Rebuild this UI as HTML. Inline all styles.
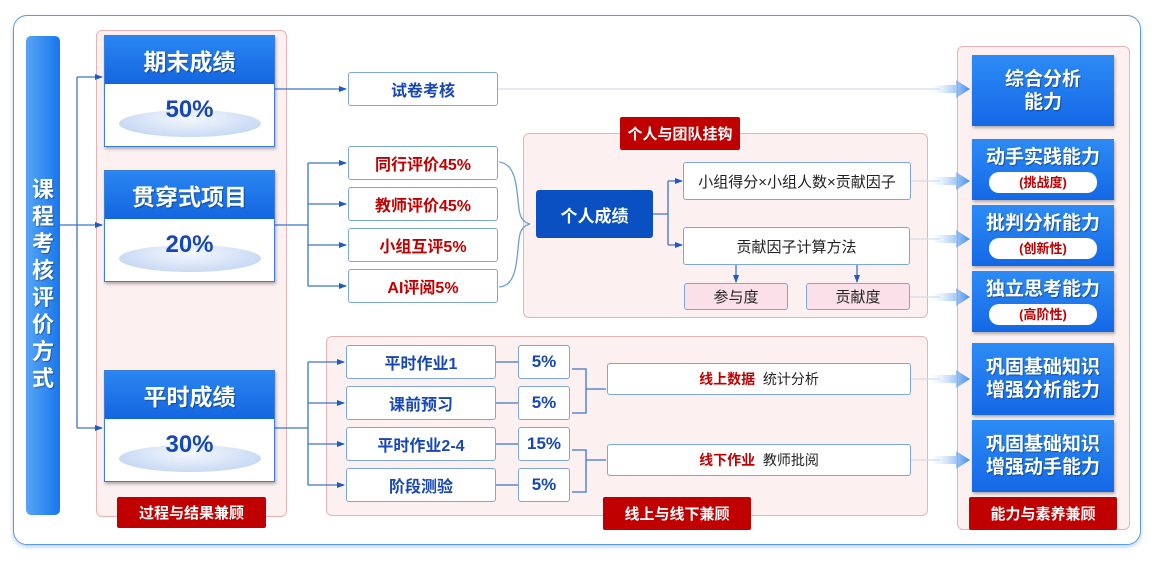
<!DOCTYPE html>
<html><head><meta charset="utf-8"><style>
*{box-sizing:border-box;margin:0;padding:0}
body{width:1156px;height:561px;background:#fff;position:relative;overflow:hidden;font-family:"Liberation Sans","Noto Sans CJK SC",sans-serif}
.a{position:absolute}
.frame{left:13px;top:15px;width:1128px;height:530px;border:1.5px solid #5b9be0;border-radius:14px;box-shadow:0 2px 4px rgba(80,140,220,.4)}
.pink{background:#fdf0f0;border:1px solid #eab3b3;border-radius:6px}
.lab{background:#c00000;color:#fff;font-weight:bold;font-size:15px;display:flex;align-items:center;justify-content:center;border-radius:2px}
.vbar{left:26px;top:36px;width:34px;height:479px;border-radius:5px;background:linear-gradient(90deg,#58a4f5,#1877ee);color:#fff;font-weight:bold;font-size:22px;line-height:27px;text-align:center;padding-top:140px;text-shadow:1px 1px 1px rgba(0,0,0,.35)}
.card{width:171px;box-shadow:1px 2px 3px rgba(0,0,0,.3);border:1.5px solid #3d7fd8;background:#fff}
.card .h{height:48px;background:linear-gradient(180deg,#2a86f2,#1466e0);color:#fff;font-weight:bold;font-size:23px;display:flex;align-items:center;justify-content:center;text-shadow:1px 1px 1px rgba(0,0,0,.35)}
.card .b{height:62px;position:relative}
.card .b .e{position:absolute;left:14px;top:26px;width:142px;height:27px;border-radius:50%;background:radial-gradient(ellipse at 50% 30%,#f4f8ff,#b9cff0)}
.card .b .t{position:absolute;left:0;right:0;top:12px;text-align:center;color:#1747b5;font-weight:bold;font-size:24px}
.bx{background:#fff;border:1.5px solid #7fa6dc;border-radius:3px;display:flex;align-items:center;justify-content:center;font-weight:bold;font-size:16px}
.blue{color:#1747b5}.red{color:#c00000}
.nb{font-weight:normal;color:#222;font-size:15px}
.pk{background:#fbe0ea;border:1.5px solid #7fa6dc;border-radius:3px;display:flex;align-items:center;justify-content:center;font-size:15px;color:#222}
.rb{left:972px;width:142px;background:linear-gradient(180deg,#2d8bf5,#1468e6);color:#fff;font-weight:bold;font-size:19px;text-align:center;box-shadow:1px 2px 3px rgba(0,0,0,.3);display:flex;flex-direction:column;align-items:center;justify-content:center;line-height:23px;text-shadow:1px 1px 1px rgba(0,0,0,.35)}
.pill{background:#fff;color:#c00000;font-size:13px;border-radius:10px;width:108px;height:21px;line-height:21px;margin-top:3px;text-shadow:none}
</style></head><body>
<div class="a frame"></div>
<div class="a vbar">课<br>程<br>考<br>核<br>评<br>价<br>方<br>式</div>

<div class="a pink" style="left:96px;top:30px;width:191px;height:487px"></div>
<div class="a pink" style="left:523px;top:133px;width:405px;height:185px"></div>
<div class="a pink" style="left:326px;top:336px;width:602px;height:180px"></div>
<div class="a pink" style="left:957px;top:46px;width:173px;height:484px"></div>

<svg class="a" style="left:0;top:0" width="1156" height="561">
<defs>
<marker id="ar" markerWidth="8" markerHeight="8" refX="7" refY="4" orient="auto" markerUnits="userSpaceOnUse"><path d="M0,1 L8,4 L0,7z" fill="#1c5bc4"/></marker>
<linearGradient id="fa" x1="0" x2="1"><stop offset="0" stop-color="#cfe3fb" stop-opacity="0"/><stop offset="1" stop-color="#3a8ef0"/></linearGradient>
</defs>
<g stroke="#3f74cc" stroke-width="1.3" fill="none">
<path d="M60 225 H77"/><path d="M77 77 V428"/>
<path d="M77 77 H102" marker-end="url(#ar)"/><path d="M77 225 H102" marker-end="url(#ar)"/><path d="M77 428 H102" marker-end="url(#ar)"/>
<path d="M275 89 H346" marker-end="url(#ar)"/>
<path d="M275 225 H308"/><path d="M308 163 V286"/>
<path d="M308 163 H346" marker-end="url(#ar)"/><path d="M308 204 H346" marker-end="url(#ar)"/><path d="M308 245 H346" marker-end="url(#ar)"/><path d="M308 286 H346" marker-end="url(#ar)"/>
<path d="M275 428 H308"/><path d="M308 362 V485"/>
<path d="M308 362 H344" marker-end="url(#ar)"/><path d="M308 403 H344" marker-end="url(#ar)"/><path d="M308 444 H344" marker-end="url(#ar)"/><path d="M308 485 H344" marker-end="url(#ar)"/>
<path d="M496 362 H518 M496 403 H518 M496 444 H518 M496 485 H518"/>
<path d="M572 369 H586 V413 H572 M586 389 H606"/>
<path d="M572 450 H586 V492 H572 M586 460 H606"/>
<path d="M653 214 H668 M668 181 V245"/><path d="M668 181 H682" marker-end="url(#ar)"/><path d="M668 245 H682" marker-end="url(#ar)"/>
<path d="M736 265 V282" marker-end="url(#ar)"/><path d="M857 265 V282" marker-end="url(#ar)"/>
</g>
<path d="M499 162 C520 164 516 200 520 214 Q522 222 530 224 Q522 226 520 234 C516 250 520 286 499 287" stroke="#6b9ee0" stroke-width="1.3" fill="none"/>
<g stroke="#d8dde6" stroke-width="1.2">
<path d="M498 89 H940"/><path d="M911 181 H940"/><path d="M910 239 H940"/><path d="M910 297 H940"/><path d="M911 379 H940"/><path d="M911 460 H940"/>
</g>
<g fill="url(#fa)">
<path d="M930 85 H956 V80 L970 89 L956 98 V93 H930z"/>
<path d="M930 177 H956 V172 L970 181 L956 190 V185 H930z"/>
<path d="M930 235 H956 V230 L970 239 L956 248 V243 H930z"/>
<path d="M930 293 H956 V288 L970 297 L956 306 V301 H930z"/>
<path d="M930 375 H956 V370 L970 379 L956 388 V383 H930z"/>
<path d="M930 456 H956 V451 L970 460 L956 469 V464 H930z"/>
</g>
</svg>

<div class="a card" style="left:104px;top:35px"><div class="h">期末成绩</div><div class="b"><div class="e"></div><div class="t">50%</div></div></div>
<div class="a card" style="left:104px;top:170px"><div class="h">贯穿式项目</div><div class="b"><div class="e"></div><div class="t">20%</div></div></div>
<div class="a card" style="left:104px;top:370px"><div class="h">平时成绩</div><div class="b"><div class="e"></div><div class="t">30%</div></div></div>
<div class="a lab" style="left:117px;top:497px;width:149px;height:31px">过程与结果兼顾</div>

<div class="a bx blue" style="left:348px;top:72px;width:150px;height:34px">试卷考核</div>
<div class="a bx red" style="left:348px;top:146px;width:150px;height:34px">同行评价45%</div>
<div class="a bx red" style="left:348px;top:187px;width:150px;height:34px">教师评价45%</div>
<div class="a bx red" style="left:348px;top:228px;width:150px;height:34px">小组互评5%</div>
<div class="a bx red" style="left:348px;top:269px;width:150px;height:34px">AI评阅5%</div>

<div class="a lab" style="left:620px;top:117px;width:120px;height:33px">个人与团队挂钩</div>
<div class="a" style="left:536px;top:190px;width:117px;height:48px;background:#0b50c2;border-radius:3px;color:#fff;font-weight:bold;font-size:17px;display:flex;align-items:center;justify-content:center">个人成绩</div>
<div class="a bx nb" style="left:683px;top:162px;width:228px;height:38px">小组得分×小组人数×贡献因子</div>
<div class="a bx nb" style="left:683px;top:227px;width:227px;height:38px">贡献因子计算方法</div>
<div class="a pk" style="left:684px;top:283px;width:104px;height:27px">参与度</div>
<div class="a pk" style="left:806px;top:283px;width:104px;height:27px">贡献度</div>

<div class="a bx blue" style="left:346px;top:345px;width:150px;height:34px">平时作业1</div>
<div class="a bx blue" style="left:346px;top:386px;width:150px;height:34px">课前预习</div>
<div class="a bx blue" style="left:346px;top:427px;width:150px;height:34px">平时作业2-4</div>
<div class="a bx blue" style="left:346px;top:468px;width:150px;height:34px">阶段测验</div>
<div class="a bx blue" style="left:518px;top:345px;width:52px;height:34px;font-size:17px">5%</div>
<div class="a bx blue" style="left:518px;top:386px;width:52px;height:34px;font-size:17px">5%</div>
<div class="a bx blue" style="left:518px;top:427px;width:52px;height:34px;font-size:17px">15%</div>
<div class="a bx blue" style="left:518px;top:468px;width:52px;height:34px;font-size:17px">5%</div>
<div class="a bx" style="left:607px;top:363px;width:304px;height:32px;font-size:14px"><span class="red">线上数据</span>&nbsp;&nbsp;<span class="nb" style="font-size:14px">统计分析</span></div>
<div class="a bx" style="left:607px;top:444px;width:304px;height:32px;font-size:14px"><span class="red">线下作业</span>&nbsp;&nbsp;<span class="nb" style="font-size:14px">教师批阅</span></div>
<div class="a lab" style="left:603px;top:497px;width:148px;height:33px">线上与线下兼顾</div>

<div class="a rb" style="top:55px;height:71px">综合分析<br>能力</div>
<div class="a rb" style="top:139px;height:61px">动手实践能力<div class="pill">(挑战度)</div></div>
<div class="a rb" style="top:205px;height:61px">批判分析能力<div class="pill">(创新性)</div></div>
<div class="a rb" style="top:271px;height:61px">独立思考能力<div class="pill">(高阶性)</div></div>
<div class="a rb" style="top:343px;height:72px">巩固基础知识<br>增强分析能力</div>
<div class="a rb" style="top:420px;height:72px">巩固基础知识<br>增强动手能力</div>
<div class="a lab" style="left:969px;top:497px;width:148px;height:33px">能力与素养兼顾</div>
</body></html>
